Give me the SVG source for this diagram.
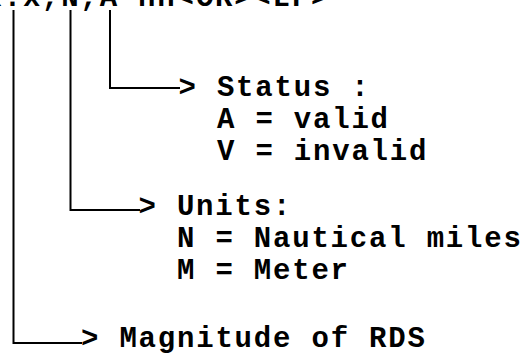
<svg xmlns="http://www.w3.org/2000/svg" width="525" height="359" viewBox="0 0 525 359">
<style>
text{font-family:"Liberation Mono","Courier New",monospace;font-weight:bold;font-size:29px;letter-spacing:1.8px;fill:#000;white-space:pre}
.c{fill:none;stroke:#000;stroke-width:2}
</style>
<rect width="525" height="359" fill="#fff"/>
<g id="header"><text x="-15.5" y="6">x.x,N,A*hh&lt;CR&gt;&lt;LF&gt;</text></g>
<g id="connectors">
<path class="c" d="M110 10 V88 H180"/>
<path class="c" d="M70.5 10 V210 H140"/>
<path class="c" d="M13.5 10 V343 H82"/>
</g>
<g id="status">
<text x="178.5" y="96">&gt; Status :</text>
<text x="217" y="128">A = valid</text>
<text x="217" y="160">V = invalid</text>
</g>
<g id="units">
<text x="138.5" y="215">&gt; Units:</text>
<text x="177" y="247">N = Nautical miles</text>
<text x="177" y="279">M = Meter</text>
</g>
<g id="magnitude">
<text x="81" y="347">&gt; Magnitude of RDS</text>
</g>
</svg>
